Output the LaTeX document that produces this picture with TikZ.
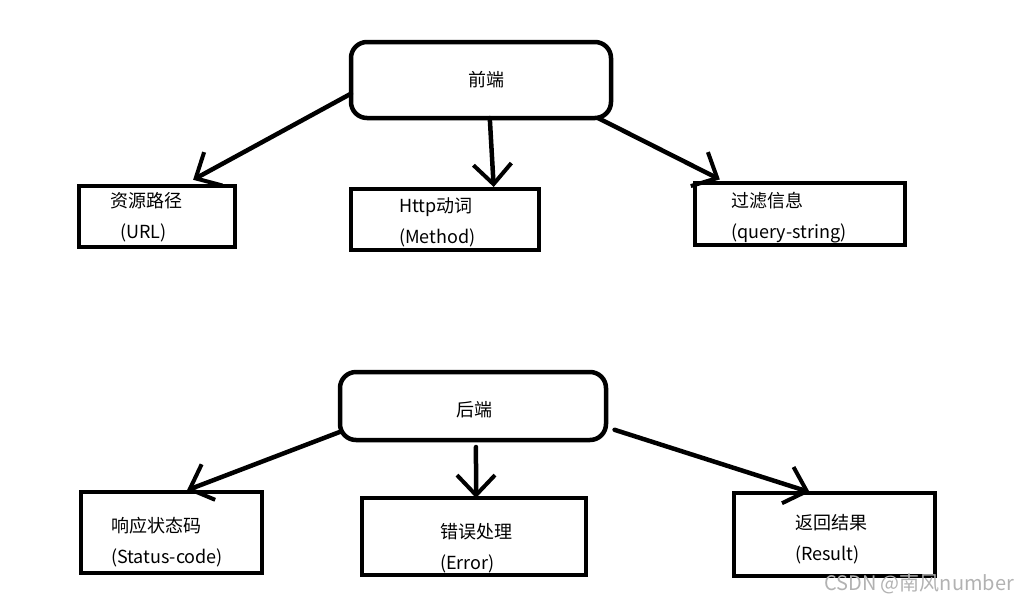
\documentclass[tikz,border=0pt]{standalone}
\usepackage{fontspec}
\setmainfont{Noto Sans CJK SC}
\usetikzlibrary{arrows.meta}

\begin{document}
\begin{tikzpicture}[
    x=1pt, y=-1pt,
    every node/.style={font=\fontsize{18}{31}\selectfont, inner sep=0, outer sep=0},
    endbox/.style={draw, line width=4.5pt, rounded corners=16pt},
    itembox/.style={draw, line width=4.5pt},
    txt/.style={anchor=west, align=left},
    arr/.style={line width=4.5pt, line cap=round,
        -{Straight Barb[length=20pt, width=38pt, line width=4pt]}}
]
\useasboundingbox (0,0) rectangle (1027,603);

% front end
\node[endbox, minimum width=260, minimum height=76] (fe) at (481,80) {};
\node at (486,80) {前端};

\node[itembox, minimum width=156, minimum height=61] (url) at (157,216.5) {};
\node[txt] at (110,217.5) {资源路径\\\hspace*{10pt}(URL)};

\node[itembox, minimum width=188, minimum height=61] (method) at (445,219.5) {};
\node[txt] at (399,222.5) {Http动词\\(Method)};

\node[itembox, minimum width=210, minimum height=62] (filter) at (800,214) {};
\node[txt] at (731,217.5) {过滤信息\\(query-string)};

\draw[arr, shorten >=13pt] (fe.186.5) -- (url.51);
\draw[arr, shorten >=2pt] (fe.283) -- (method.32);
\draw[arr, shorten >=8pt] (fe.342.6) -- (filter.157.5);

% back end
\node[endbox, minimum width=266, minimum height=68] (be) at (473,406) {};
\node at (474,410) {后端};

\node[itembox, minimum width=181, minimum height=81] (status) at (171.5,532.5) {};
\node[txt] at (111,542) {响应状态码\\(Status-code)};

\node[itembox, minimum width=224, minimum height=77] (error) at (474,536.5) {};
\node[txt] at (440,548.5) {错误处理\\(Error)};

\node[itembox, minimum width=201, minimum height=83] (result) at (834.5,534.5) {};
\node[txt] at (795,539) {返回结果\\(Result)};

\draw[arr, shorten >=5pt] (be.191.2) -- (status.75.5);
\draw[arr, shorten <=7pt] (be.275) -- (error.87);
\draw[arr, shorten <=9pt, shorten >=3pt] (be.351.6) -- (result.118.5);

\node[text=black!30, font=\fontsize{20}{22}\selectfont] (mark) at (919,584) {CSDN @南风number};
\end{tikzpicture}
\end{document}
